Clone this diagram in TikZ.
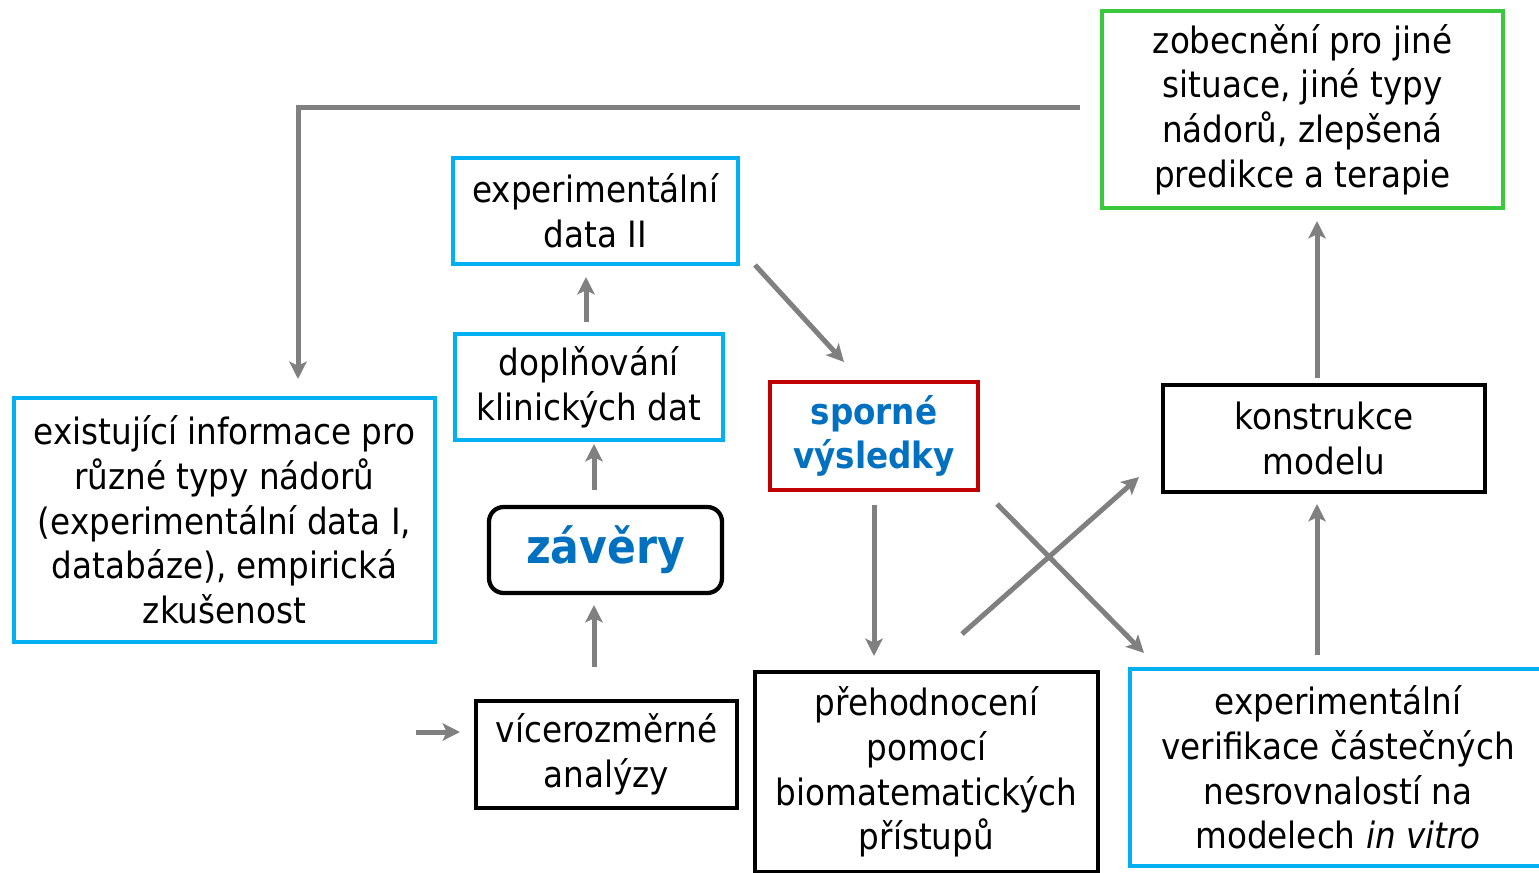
\documentclass[tikz,border=0pt]{standalone}
\usepackage{fontspec}
\setmainfont{DejaVu Sans Condensed}
\usetikzlibrary{arrows.meta}
\definecolor{ccyan}{RGB}{0,176,240}
\definecolor{cblue}{RGB}{0,112,192}
\definecolor{cred}{RGB}{192,0,0}
\definecolor{cgreen}{RGB}{60,200,60}
\definecolor{cgray}{RGB}{128,128,128}
\begin{document}
\begin{tikzpicture}[x=0.75pt,y=-0.75pt,
  box/.style={draw, line width=3.2pt, align=center, inner sep=0pt, fill=white,
    font=\fontsize{27.2}{33.5}\selectfont},
  cyanbox/.style={box, draw=ccyan},
  blackbox/.style={box, draw=black},
  conn/.style={draw=cgray, line width=3.75pt, -{Stealth[length=13pt,width=13pt,inset=3pt]}},
]
\useasboundingbox (0,0) rectangle (1539,872);
\clip (0,0) rectangle (1539,872);

\node[cyanbox, minimum width=421*0.75pt, minimum height=244*0.75pt] (exist) at (224.5,520)
  {existující informace pro\\různé typy nádorů\\(experimentální data I,\\databáze), empirická\\zkušenost};
\node[cyanbox, minimum width=285*0.75pt, minimum height=106*0.75pt] (expII) at (595.5,211)
  {experimentální\\data II};
\node[cyanbox, minimum width=268*0.75pt, minimum height=106*0.75pt] (dopl) at (589,387)
  {doplňování\\klinických dat};
\node[blackbox, rounded corners=11pt, minimum width=233*0.75pt, minimum height=86*0.75pt] (zav) at (605.5,550)
  {\raisebox{-2pt}{\fontsize{35.5}{42}\selectfont\bfseries\color{cblue}závěry}};
\node[blackbox, minimum width=261*0.75pt, minimum height=107*0.75pt] (vic) at (606.5,754.5)
  {vícerozměrné\\analýzy};
\node[box, draw=cred, minimum width=208*0.75pt, minimum height=108*0.75pt] (spor) at (874,436)
  {\bfseries\color{cblue}sporné\\\bfseries\color{cblue}výsledky};
\node[blackbox, minimum width=343*0.75pt, minimum height=200*0.75pt] (preh) at (926.5,772)
  {přehodnocení\\pomocí\\biomatematických\\přístupů};
\node[cyanbox, minimum width=416*0.75pt, minimum height=197*0.75pt] (ver) at (1338,767.5)
  {experimentální\\verifikace částečných\\nesrovnalostí na\\modelech \textit{in vitro}};
\node[blackbox, minimum width=322*0.75pt, minimum height=107*0.75pt] (kon) at (1324,438.5)
  {konstrukce\\modelu};
\node[box, draw=cgreen, minimum width=401*0.75pt, minimum height=197*0.75pt] (zob) at (1302.5,109.5)
  {zobecnění pro jiné\\situace, jiné typy\\nádorů, zlepšená\\predikce a terapie};

% connector end points
\coordinate (fbA) at (1080,107);
\coordinate (fbB) at (298,107);
\coordinate (fbC) at (298,379);
\coordinate (d1) at (586,322); \coordinate (d2) at (586,277);
\coordinate (z1) at (594,490); \coordinate (z2) at (594,444);
\coordinate (v1) at (594,667); \coordinate (v2) at (594,605);
\coordinate (in1) at (416,732); \coordinate (in2) at (460,732);
\coordinate (e1) at (755,265); \coordinate (e2) at (844,362);
\coordinate (s1) at (874,505); \coordinate (s2) at (874,656);
\coordinate (p1) at (962,634); \coordinate (p2) at (1139,477);
\coordinate (q1) at (997,504); \coordinate (q2) at (1144,653);
\coordinate (r1) at (1317,655); \coordinate (r2) at (1317,504);
\coordinate (k1) at (1317,378); \coordinate (k2) at (1317,221);

\draw[conn] (fbA) -- (fbB) -- (fbC);
\draw[conn] (d1) -- (d2);
\draw[conn] (z1) -- (z2);
\draw[conn] (v1) -- (v2);
\draw[conn] (in1) -- (in2);
\draw[conn] (e1) -- (e2);
\draw[conn] (s1) -- (s2);
\draw[conn] (p1) -- (p2);
\draw[conn] (q1) -- (q2);
\draw[conn] (r1) -- (r2);
\draw[conn] (k1) -- (k2);
\end{tikzpicture}
\end{document}
